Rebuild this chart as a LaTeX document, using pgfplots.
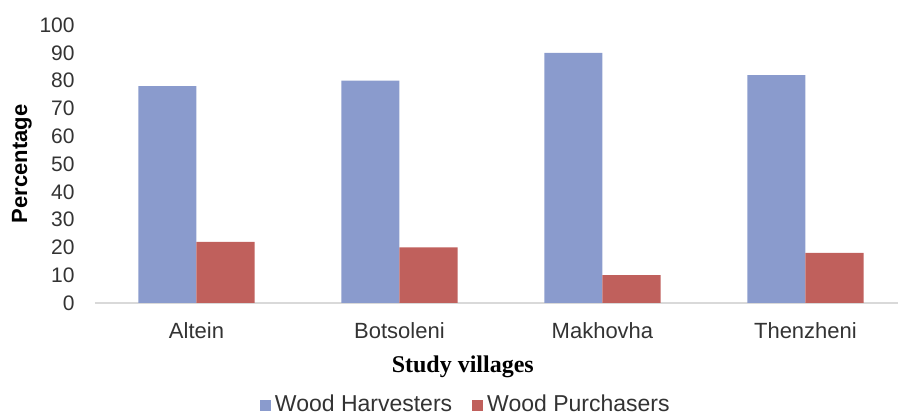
\documentclass[border=0pt]{standalone}
\usepackage{fontspec}
\setmainfont{Liberation Sans}
\newfontfamily\timesfont{Liberation Serif}
\usepackage{pgfplots}
\pgfplotsset{compat=1.18}
\definecolor{harv}{RGB}{138,155,205}
\definecolor{purch}{RGB}{192,96,92}
\definecolor{baseln}{RGB}{217,217,217}
\begin{document}
\begin{tikzpicture}
\begin{axis}[
  scale only axis,
  width=401.5pt, height=139pt,
  at={(0,0)}, anchor=south west,
  xmin=-0.5, xmax=3.456,
  ymin=0, ymax=100,
  ytick={0,10,...,100},
  xtick={0,1,2,3},
  xticklabels={Altein,Botsoleni,Makhovha,Thenzheni},
  major tick length=0pt,
  axis x line*=bottom,
  axis y line*=left,
  x axis line style={draw=baseln, line width=0.6pt, -},
  y axis line style={draw=none},
  ytick style={draw=none}, xtick style={draw=none},
  /pgf/number format/assume math mode=true,
  ticklabel style={font=\fontsize{10.5}{12}\selectfont, text=black!80},
  yticklabel style={anchor=east, inner sep=0pt, xshift=-10pt},
  xticklabel style={anchor=north, inner sep=0pt, yshift=-9.5pt, font=\fontsize{11}{13}\selectfont},
  xlabel={\timesfont\bfseries Study villages},
  xlabel style={at={(axis description cs:0.458,-0.23)}, anchor=center, font=\fontsize{12}{14}\selectfont},
  ylabel={\bfseries Percentage},
  ylabel style={at={(axis description cs:-0.0909,0.5)}, anchor=center, rotate=0, font=\fontsize{11}{13}\selectfont},
  legend style={at={(axis description cs:0.463,-0.367)}, anchor=center, draw=none, fill=none,
    legend columns=-1, font=\fontsize{11.5}{13}\selectfont, text=black!80,
    /tikz/every even column/.append style={column sep=8pt}},
  legend image code/.code={\fill[#1] (0pt,-2.75pt) rectangle (5.5pt,2.75pt);},
  clip=false,
]
\addplot[ybar, bar width=0.286, bar shift=-0.143, fill=harv, draw=none]
  coordinates {(0,78) (1,80) (2,90) (3,82)};
\addlegendentry{Wood Harvesters}
\addplot[ybar, bar width=0.286, bar shift=0.143, fill=purch, draw=none]
  coordinates {(0,22) (1,20) (2,10) (3,18)};
\addlegendentry{Wood Purchasers}
\end{axis}
\pgfresetboundingbox
\useasboundingbox (-47.5pt,-56.5pt) rectangle (401.5pt,151.5pt);
\end{tikzpicture}
\end{document}
